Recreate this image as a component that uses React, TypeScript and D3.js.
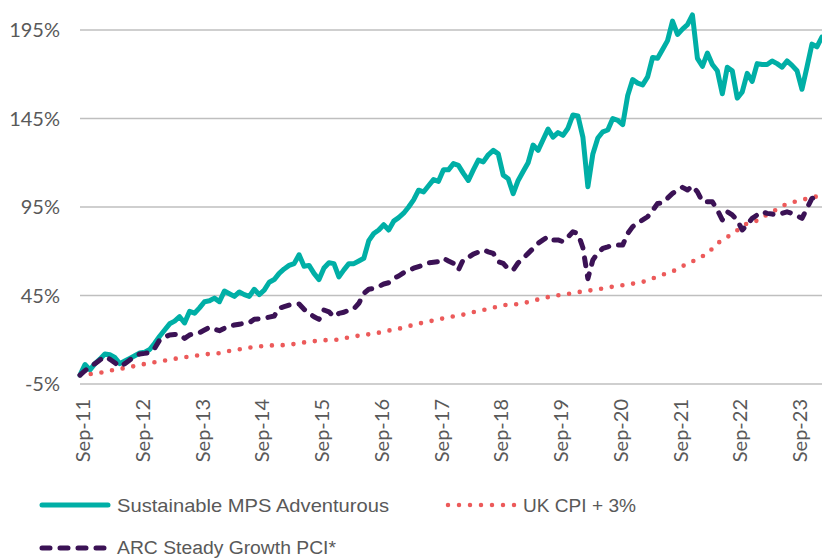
import React from "react";
import * as d3 from "d3";

const yTicks = [-5, 45, 95, 145, 195];
const xTickLabels = ["Sep-11","Sep-12","Sep-13","Sep-14","Sep-15","Sep-16","Sep-17","Sep-18","Sep-19","Sep-20","Sep-21","Sep-22","Sep-23"];

// Monthly values, Sep-11 .. Feb-24 (cumulative % return)
const sustainableMPS = [
  0, 6, 3, 6.5, 9, 12, 11.5, 10, 6.5, 8, 9.5, 11,
  12.5, 13, 14.5, 18, 22, 25.5, 29, 30.5, 33, 29.5, 36, 35,
  38, 41.5, 42, 43.5, 41.5, 47.5, 46, 44.5, 47, 45.5, 44.5, 48.5,
  45.5, 48, 52.5, 54, 57.5, 60, 62, 63, 68, 61.5, 62, 57.5,
  54, 60.5, 63.5, 63, 55.5, 59.5, 63, 63, 64.5, 66, 76, 80,
  82, 85, 82, 87, 89, 91.5, 95, 99, 104.5, 103.5, 107, 110.5,
  109.5, 116, 116, 119.5, 118.5, 114, 110, 116, 121.5, 120.5, 124.5, 127,
  125, 113, 111, 102.5, 110, 115, 120, 130, 127, 133, 139, 134.5,
  137, 135.5, 139.5, 147, 146.5, 134.5, 106.5, 125, 134, 137.5, 138.5, 145,
  144, 141.5, 158, 167, 165, 164, 168.5, 179.5, 179, 184, 189, 200,
  192.5, 195.5, 198, 203.5, 179, 174.5, 182, 175.5, 172, 159, 174, 172,
  156.5, 160, 170.5, 166, 176, 175.5, 175.5, 177.5, 176, 174, 177.5, 175,
  172, 161.5, 174, 187, 185.5, 191
];

const ukCpiPlus3 = [
  0, 0.3, 0.6, 1.0, 1.3, 2.0, 2.6, 3.1, 3.6, 4.0, 4.5, 5.2,
  5.8, 6.3, 6.8, 7.3, 7.8, 8.2, 8.7, 9.2, 9.7, 10.1, 10.5, 10.9,
  11.3, 11.7, 12.0, 12.2, 12.4, 13.0, 13.7, 14.1, 14.6, 15.0, 15.5, 15.9,
  16.2, 16.5, 16.8, 16.8, 16.8, 17.0, 17.2, 17.6, 18.0, 18.5, 18.9, 19.2,
  19.4, 19.7, 19.9, 20.0, 20.0, 20.7, 21.4, 21.9, 22.3, 22.7, 23.1, 23.6,
  24.0, 24.6, 25.2, 25.7, 26.2, 27.0, 27.7, 28.4, 29.1, 29.7, 30.3, 30.9,
  31.5, 32.1, 32.7, 33.2, 33.7, 34.2, 34.8, 35.6, 36.3, 36.8, 37.4, 38.1,
  38.8, 39.4, 40.0, 40.0, 40.1, 40.7, 41.3, 42.0, 42.8, 43.5, 44.1, 44.6,
  45.1, 45.5, 45.9, 46.4, 46.9, 47.3, 47.7, 48.1, 48.5, 49.0, 49.5, 50.0,
  50.4, 50.8, 51.3, 51.7, 52.1, 52.7, 53.4, 54.6, 55.8, 56.7, 57.7, 58.7,
  59.8, 61.5, 63.2, 64.3, 65.5, 67.1, 68.8, 71.5, 74.5, 76.2, 78.0, 79.9,
  81.8, 83.8, 85.8, 86.5, 87.3, 89.0, 90.8, 92.2, 93.7, 95.3, 97.0, 97.6,
  98.3, 99.0, 99.7, 100.4, 101.0, 101.6
];

const arcSteadyGrowth = [
  0, 2.5, 4.8, 6.5, 8.6, 10.4, 9, 7, 4.8, 6.5, 8.6, 10.5,
  12, 12.3, 12.7, 15.2, 19.9, 21.5, 22.7, 23, 23.2, 20.8, 22.7, 23.5,
  24, 25.5, 27, 26, 25.1, 26.5, 27.8, 28.3, 28.8, 29.2, 29.6, 31.6,
  31.8, 32.1, 32.8, 33.4, 37.8, 38.7, 39.6, 39.8, 40.2, 37.2, 35, 33,
  31.5, 36.8, 35.8, 33, 34.9, 35.5, 36.8, 37.5, 40.6, 46.2, 48.5, 49,
  50, 51.5, 52.2, 54.7, 56, 57.9, 59, 60.4, 61.3, 62.2, 63.5, 63.8,
  64.1, 66, 64.5, 63.2, 59.4, 65.4, 66.5, 68.4, 69.5, 70.7, 69.7, 68.8,
  64.1, 63.2, 60, 59.4, 63.5, 66, 68.8, 71.6, 74.5, 76.4, 78.2, 76.4,
  76.4, 75.4, 78, 81, 80, 72, 54.5, 65.1, 69, 71.6, 72.5, 73.5,
  73.5, 73.5, 80, 83.9, 86, 87.7, 89.5, 93, 97, 97.4, 100, 102.7,
  104.6, 106.1, 104.6, 106.9, 103.6, 98, 98, 98, 93.3, 87.7, 92.3, 90.5,
  87.7, 82, 85, 88.6, 90.5, 92.3, 91.4, 91, 90.5, 91.4, 92.3, 91.4,
  90, 88.6, 94.3, 99.9, 100.5, 101.8
];

const seriesNames = ["Sustainable MPS Adventurous", "UK CPI + 3%", "ARC Steady Growth PCI*"];

const W = 822;
const H = 559;
const TEAL = "#00AFA6";
const RED = "#EC5A5A";
const PURPLE = "#3B1255";
const GRID = "#BFBFBF";
const TEXT = "#595959";

export default function App() {
  const x = d3.scaleLinear().domain([0, 144]).range([80, 797]);
  const y = d3.scaleLinear().domain([-5, 195]).range([384, 30]);
  const line = d3
    .line<number>()
    .x((_, i) => x(i))
    .y((d) => y(d))
    .curve(d3.curveLinear);

  return (
    <svg
      width={W}
      height={H}
      style={{ position: "absolute", left: 0, top: 0, background: "#fff" }}
    >
      {yTicks.map((t) => (
        <g key={t}>
          <line x1={80} x2={W} y1={y(t)} y2={y(t)} stroke={GRID} strokeWidth={1.5} />
          <text
            x={60}
            y={y(t)}
            dy="0.35em"
            textAnchor="end"
            fontFamily="Lato, 'DejaVu Sans', sans-serif"
            fontSize={20}
            fill={TEXT}
          >
            {t}%
          </text>
        </g>
      ))}
      {xTickLabels.map((lab, k) => (
        <text
          key={lab}
          transform={`translate(${x(k * 12) + 3},${399}) rotate(-90)`}
          dy="0.35em"
          textAnchor="end"
          fontFamily="Lato, 'DejaVu Sans', sans-serif"
          fontSize={20}
          fill={TEXT}
        >
          {lab}
        </text>
      ))}
      <g fill="none">
        <path
          d={line(sustainableMPS) || ""}
          stroke={TEAL}
          strokeWidth={5}
          strokeLinejoin="round"
          strokeLinecap="round"
        />
        <path
          d={line(ukCpiPlus3) || ""}
          stroke={RED}
          strokeWidth={4.6}
          strokeDasharray="0 10.8"
          strokeLinecap="round"
        />
        <path
          d={line(arcSteadyGrowth) || ""}
          stroke={PURPLE}
          strokeWidth={5}
          strokeDasharray="8 10"
          strokeLinecap="round"
          strokeLinejoin="round"
        />
      </g>
      {/* Legend */}
      <g fontFamily="'Liberation Sans', Arial, sans-serif" fontSize={19} fill={TEXT}>
        <line x1={42} x2={108} y1={505} y2={505} stroke={TEAL} strokeWidth={5} strokeLinecap="round" />
        <text x={117} y={505} dy="0.35em" textLength={272} lengthAdjust="spacingAndGlyphs">
          {seriesNames[0]}
        </text>
        <line x1={448} x2={515} y1={505} y2={505} stroke={RED} strokeWidth={4.5} strokeDasharray="0 11" strokeLinecap="round" />
        <text x={523} y={505} dy="0.35em" textLength={113} lengthAdjust="spacingAndGlyphs">
          {seriesNames[1]}
        </text>
        <line x1={42} x2={110} y1={548} y2={548} stroke={PURPLE} strokeWidth={5} strokeDasharray="8 10" strokeLinecap="round" />
        <text x={117} y={548} dy="0.33em" fontSize={18} textLength={219} lengthAdjust="spacingAndGlyphs">
          {seriesNames[2]}
        </text>
      </g>
    </svg>
  );
}
